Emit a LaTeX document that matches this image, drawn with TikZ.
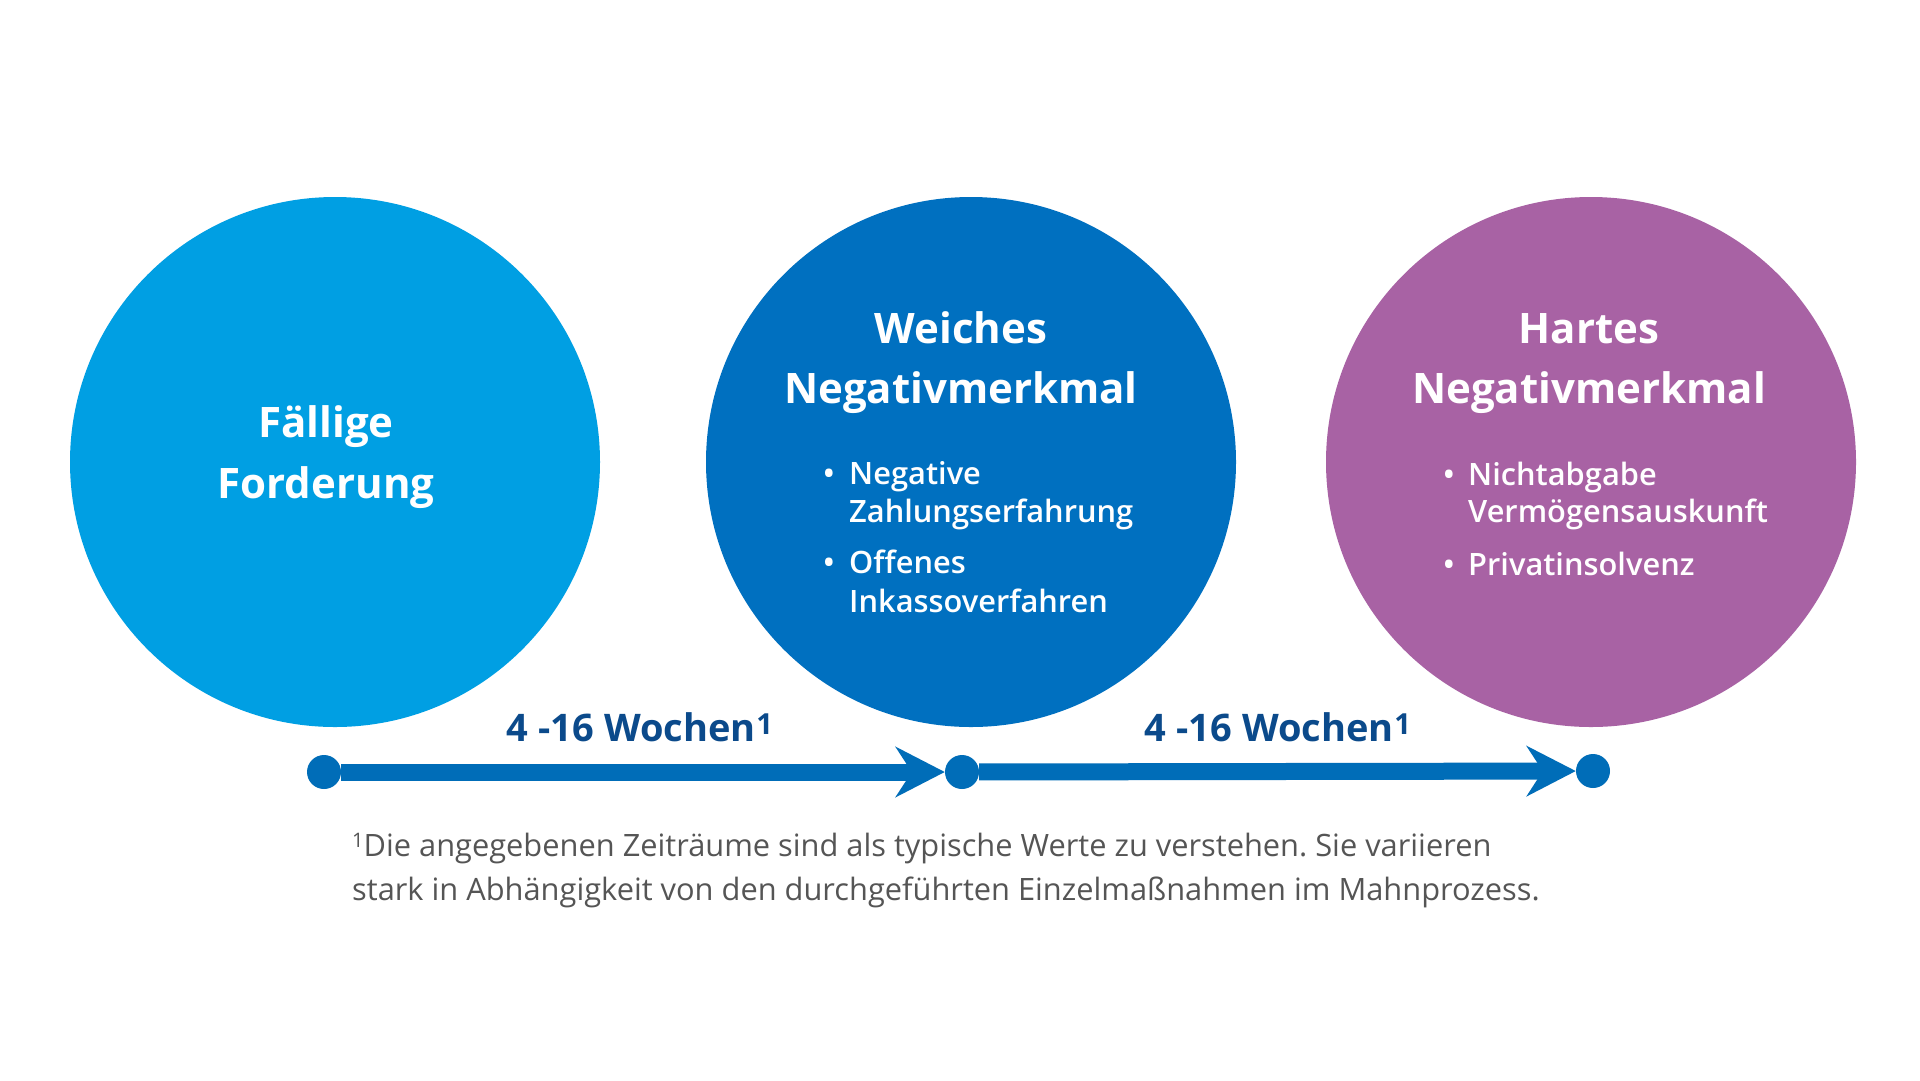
\documentclass[tikz,border=0pt]{standalone}
\usepackage{fontspec}
\setmainfont{Open Sans}
\newfontfamily\semifont{Open Sans Semibold}
\usetikzlibrary{arrows.meta}
\definecolor{cA}{HTML}{009FE3}
\definecolor{cB}{HTML}{0070C0}
\definecolor{cC}{HTML}{A862A4}
\definecolor{arr}{HTML}{006DB8}
\definecolor{lab}{HTML}{0B4A8B}
\definecolor{foot}{HTML}{555555}
\frenchspacing
\tikzset{
  bigcirc/.style={circle, minimum size=530pt, inner sep=0pt, draw=none},
  title/.style={text=white, font=\bfseries\fontsize{42}{42}\selectfont, anchor=base, inner sep=0pt},
  item/.style={text=white, font=\semifont\fontsize{30.8}{30.8}\selectfont, anchor=base west, inner sep=0pt},
  bul/.style={text=white, font=\semifont\fontsize{30.8}{30.8}\selectfont, anchor=base, inner sep=0pt},
  dot/.style={circle, fill=arr, minimum size=34pt, inner sep=0pt},
  conn/.style={draw=arr, line width=17pt, -{Stealth[length=49pt,width=50pt,inset=16pt]}},
  wlab/.style={text=lab, font=\bfseries\fontsize{38}{38}\selectfont, anchor=base, inner sep=0pt},
  fn/.style={text=foot, font=\fontsize{30.8}{30.8}\selectfont, anchor=base west, inner sep=0pt}
}
\begin{document}
\begin{tikzpicture}[x=1pt,y=-1pt]
\useasboundingbox (0,0) rectangle (1920,1080);
\fill[white] (0,0) rectangle (1920,1080);
% circles
\node[bigcirc, fill=cA] (c1) at (335,462) {};
\node[bigcirc, fill=cB] (c2) at (971,462) {};
\node[bigcirc, fill=cC] (c3) at (1591,462) {};
% titles
\node[title] (t1a) at (326,437) {Fällige};
\node[title] (t1b) at (326,498) {Forderung};
\node[title] (t2a) at (961,343) {Weiches};
\node[title] (t2b) at (961,403) {Negativmerkmal};
\node[title] (t3a) at (1589,343) {Hartes};
\node[title] (t3b) at (1589,403) {Negativmerkmal};
% bullets circle 2
\node[bul] (b21) at (829,484) {•};
\node[item] (i21) at (849,484) {Negative};
\node[item] (i21b) at (849,522) {Zahlungserfahrung};
\node[bul] (b22) at (829,573) {•};
\node[item] (i22) at (849,573) {Offenes};
\node[item] (i22b) at (849,612) {Inkassoverfahren};
% bullets circle 3
\node[bul] (b31) at (1449,485) {•};
\node[item] (i31) at (1468,485) {Nichtabgabe};
\node[item] (i31b) at (1468,522) {Vermögensauskunft};
\node[bul] (b32) at (1449,575) {•};
\node[item] (i32) at (1468,575) {Privatinsolvenz};
% timeline
\node[dot] (d1) at (324,772) {};
\node[dot] (d2) at (962,772) {};
\node[dot] (d3) at (1593,771) {};
\draw[conn] (d1) -- (d2);
\draw[conn] (d2) -- (d3);
\node[wlab] (w1) at (640,741) {4 -16 Wochen\hspace{1pt}\raisebox{7pt}{\fontsize{29}{29}\selectfont 1}};
\node[wlab] (w2) at (1278,741) {4 -16 Wochen\hspace{1pt}\raisebox{7pt}{\fontsize{29}{29}\selectfont 1}};
% footnote
\node[fn] (f1) at (352,856) {\raisebox{9pt}{\fontsize{20}{20}\selectfont 1}Die angegebenen Zeiträume sind als typische Werte zu verstehen. Sie variieren};
\node[fn] (f2) at (352,900) {stark in Abhängigkeit von den durchgeführten Einzelmaßnahmen im Mahnprozess.};
\end{tikzpicture}
\end{document}
